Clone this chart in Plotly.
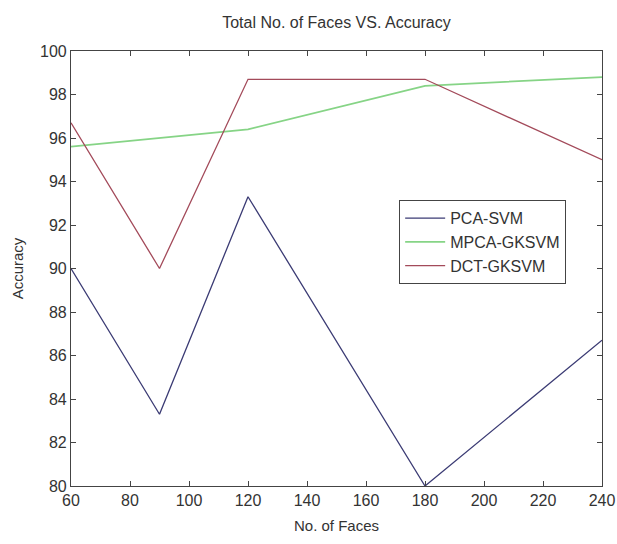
import plotly.graph_objects as go

faces = [60, 90, 120, 180, 240]
pca_svm = [90.0, 83.3, 93.3, 80.0, 86.7]
mpca_gksvm = [95.6, 96.0, 96.4, 98.4, 98.8]
dct_gksvm = [96.7, 90.0, 98.7, 98.7, 95.0]

x_ticks = [60, 80, 100, 120, 140, 160, 180, 200, 220, 240]
y_ticks = [80, 82, 84, 86, 88, 90, 92, 94, 96, 98, 100]

fig = go.Figure()
fig.add_trace(go.Scatter(x=faces, y=pca_svm, mode="lines", name="PCA-SVM",
                         line=dict(color="#3b3b74", width=1.3)))
fig.add_trace(go.Scatter(x=faces, y=mpca_gksvm, mode="lines", name="MPCA-GKSVM",
                         line=dict(color="#86d486", width=1.8)))
fig.add_trace(go.Scatter(x=faces, y=dct_gksvm, mode="lines", name="DCT-GKSVM",
                         line=dict(color="#a34a5a", width=1.3)))

axis_common = dict(showgrid=False, zeroline=False, showline=True, linecolor="#444",
                   linewidth=1.2, mirror="ticks", ticks="inside", ticklen=5,
                   tickcolor="#444", tickfont=dict(size=16, color="#333"))

W, H = 617, 544
L, R, T, B = 71, 15, 51, 58

fig.update_layout(
    width=W, height=H,
    margin=dict(l=L, r=R, t=T, b=B, autoexpand=False),
    paper_bgcolor="white", plot_bgcolor="white",
    font=dict(family="Liberation Sans, Arial, sans-serif", color="#333"),
    title=dict(text="Total No. of Faces VS. Accuracy",
               x=0.5, xanchor="center", xref="paper",
               y=1 - 22 / H, yanchor="middle", font=dict(size=16, color="#333")),
    xaxis=dict(range=[60, 240], tickvals=x_ticks,
               title=dict(text="No. of Faces", font=dict(size=15, color="#333"), standoff=12),
               **axis_common),
    yaxis=dict(range=[80, 100], tickvals=y_ticks,
               title=dict(text="Accuracy", font=dict(size=15, color="#333"), standoff=12),
               **axis_common),
    showlegend=True,
    legend=dict(x=0.618, y=0.657, xanchor="left", yanchor="top",
                bgcolor="white", bordercolor="#444", borderwidth=1,
                font=dict(size=16, color="#333"), tracegroupgap=0,
                itemwidth=40),
)

# remove the browser's default 8px body margin so the figure fills the window exactly
fig.write_html("out.html", config={"displayModeBar": False},
               post_script="document.body.style.margin='0';document.body.style.overflow='hidden';")
